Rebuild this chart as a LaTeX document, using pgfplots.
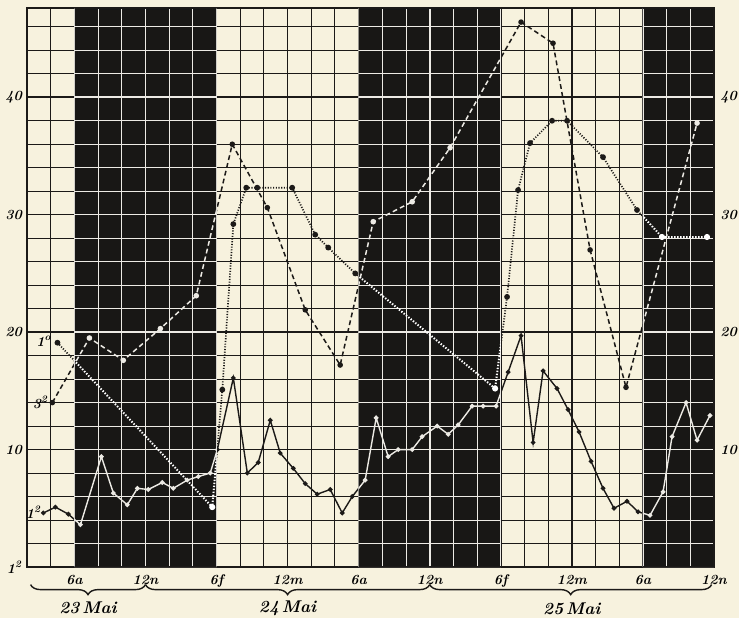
\documentclass[border=0pt]{standalone}
\usepackage{pgfplots}
\usepackage{pgfplotstable}
\pgfplotsset{compat=1.18}
\usetikzlibrary{decorations.pathreplacing,backgrounds,calc}
\definecolor{cream}{RGB}{247,242,222}
\definecolor{darkbg}{RGB}{24,23,21}
\definecolor{ink}{RGB}{28,26,24}
\definecolor{chalk}{RGB}{236,234,228}

\pgfplotstableread{
h y
3.38 4.6
4.40 5.1
5.49 4.5
6.51 3.6
8.28 9.4
9.29 6.3
10.47 5.3
11.32 6.7
12.24 6.6
13.42 7.2
14.35 6.7
15.53 7.4
16.46 7.7
17.47 8.0
18.07 10.0
19.42 16.1
20.60 8.0
21.52 8.9
22.54 12.5
23.38 9.7
24.48 8.4
25.49 7.1
26.50 6.2
27.60 6.6
28.61 4.6
29.46 6.0
30.55 7.4
31.48 12.7
32.49 9.4
33.34 10.0
34.52 10.0
35.36 11.1
36.63 12.0
37.56 11.3
38.40 12.1
39.58 13.7
40.51 13.7
41.60 13.7
42.62 16.6
43.71 19.7
44.73 10.6
45.57 16.7
46.75 15.2
47.68 13.4
48.61 11.5
49.62 9.0
50.63 6.7
51.56 5.0
52.66 5.6
53.59 4.7
54.60 4.4
55.70 6.4
56.46 11.1
57.64 14.0
58.57 10.8
59.66 12.9
}\solidtab

\pgfplotstableread{
h y
4.14 14.0
7.27 19.5
10.13 17.6
13.26 20.3
16.29 23.1
19.33 36.0
22.29 30.6
25.49 21.9
28.44 17.2
31.23 29.4
34.52 31.1
37.72 35.7
43.71 46.4
46.41 44.6
49.54 27.0
52.57 15.3
58.57 37.8
}\dashtab

\pgfplotstableread{
h y
4.57 19.1
17.64 5.1
18.49 15.1
19.42 29.2
20.51 32.3
21.44 32.3
24.39 32.3
26.33 28.3
27.43 27.2
29.71 25.0
41.52 15.2
42.53 23.0
43.46 32.1
44.47 36.1
46.33 38.0
47.60 38.0
50.63 34.9
53.50 30.4
55.61 28.1
59.41 28.1
}\dottab

\pgfplotsset{
  basestyle/.style={
    width=343.5pt, height=279.5pt, scale only axis,
    xmin=2, xmax=60, ymin=0, ymax=47.6,
    xtick={6,12,...,60}, minor xtick={2,4,...,60},
    ytick={0,10,20,30,40}, minor ytick={2,4,...,46},
    major tick length=0pt, minor tick length=0pt,
    grid=both,
  },
  solidline/.style={line width=0.7pt, mark=*, mark size=0.8pt},
  dashline/.style={line width=0.75pt, dash pattern=on 2.4pt off 1.6pt, mark=*, mark size=1pt, mark options={solid}},
  dotline/.style={line width=0.85pt, dash pattern=on 0.55pt off 0.8pt, mark=*, mark size=1pt, mark options={solid}},
}
\newcommand{\lab}{\fontsize{7}{8}\selectfont\bfseries\itshape}

\begin{document}
\begin{tikzpicture}
\begin{axis}[basestyle, name=main, clip=false,
  axis background/.style={fill=cream},
  major grid style={ink, line width=0.8pt},
  minor grid style={ink, line width=0.5pt},
  axis line style={ink, line width=1.1pt},
  xticklabels={6a,12n,6f,12m,6a,12n,6f,12m,6a,12n},
  xticklabel style={font=\lab, yshift=-0.5pt},
  yticklabels={1\textsuperscript{2},10,20,30,40},
  yticklabel style={font=\lab, xshift=1pt},
]
\addplot[ink, solidline] table[x=h,y=y] {\solidtab};
\addplot[ink, dashline] table[x=h,y=y] {\dashtab};
\addplot[ink, dotline] table[x=h,y=y] {\dottab};
\coordinate (a1) at (axis cs:6,0);  \coordinate (b1) at (axis cs:18,47.6);
\coordinate (a2) at (axis cs:30,0); \coordinate (b2) at (axis cs:42,47.6);
\coordinate (a3) at (axis cs:54,0); \coordinate (b3) at (axis cs:60,47.6);
% right-hand scale labels
\pgfplotsinvokeforeach{10,20,30,40}{\node[font=\lab, anchor=west, inner sep=0pt, xshift=3pt] at (axis cs:60,#1) {#1};}
% series labels
\node[font=\lab, anchor=east, inner sep=0.5pt] at (axis cs:4.2,19.2) {1\textsuperscript{o}};
\node[font=\lab, anchor=east, inner sep=0.5pt] at (axis cs:3.9,14.0) {3\textsuperscript{2}};
\node[font=\lab, anchor=east, inner sep=0.5pt] at (axis cs:3.3,4.7) {1\textsuperscript{2}};
% day braces
\draw[ink, line width=0.7pt, decorate, decoration={brace, mirror, amplitude=5pt}] (axis cs:2.3,-1.5) -- (axis cs:12,-1.5);
\draw[ink, line width=0.7pt, decorate, decoration={brace, mirror, amplitude=5pt}] (axis cs:12,-1.5) -- (axis cs:36,-1.5);
\draw[ink, line width=0.7pt, decorate, decoration={brace, mirror, amplitude=5pt}] (axis cs:36,-1.5) -- (axis cs:59.8,-1.5);
\node[font=\fontsize{8.5}{9}\selectfont\bfseries\itshape] at (axis cs:7.15,-3.5) {23\,Mai};
\node[font=\fontsize{8.5}{9}\selectfont\bfseries\itshape] at (axis cs:24,-3.5) {24\,Mai};
\node[font=\fontsize{8.5}{9}\selectfont\bfseries\itshape] at (axis cs:48,-3.6) {25\,Mai};
\end{axis}

\begin{scope}
\clip (a1) rectangle (b1) (a2) rectangle (b2) (a3) rectangle (b3);
\begin{axis}[basestyle,
  axis background/.style={fill=darkbg},
  major grid style={chalk, line width=0.8pt},
  minor grid style={chalk, line width=0.5pt},
  axis line style={ink, line width=1.1pt},
  xticklabels={}, yticklabels={},
]
\addplot[chalk, solidline] table[x=h,y=y] {\solidtab};
\addplot[chalk, dashline] table[x=h,y=y] {\dashtab};
\addplot[white, dotline, line width=1pt, dash pattern=on 0.7pt off 0.8pt] table[x=h,y=y] {\dottab};
\end{axis}
\end{scope}

\begin{scope}[on background layer]
\fill[cream] ($(main.south west)+(-13.5pt,-25.5pt)$) rectangle ($(main.north east)+(12.5pt,4pt)$);
\end{scope}
\pgfresetboundingbox
\path ($(main.south west)+(-13.5pt,-25.5pt)$) rectangle ($(main.north east)+(12.5pt,4pt)$);
\end{tikzpicture}
\end{document}
